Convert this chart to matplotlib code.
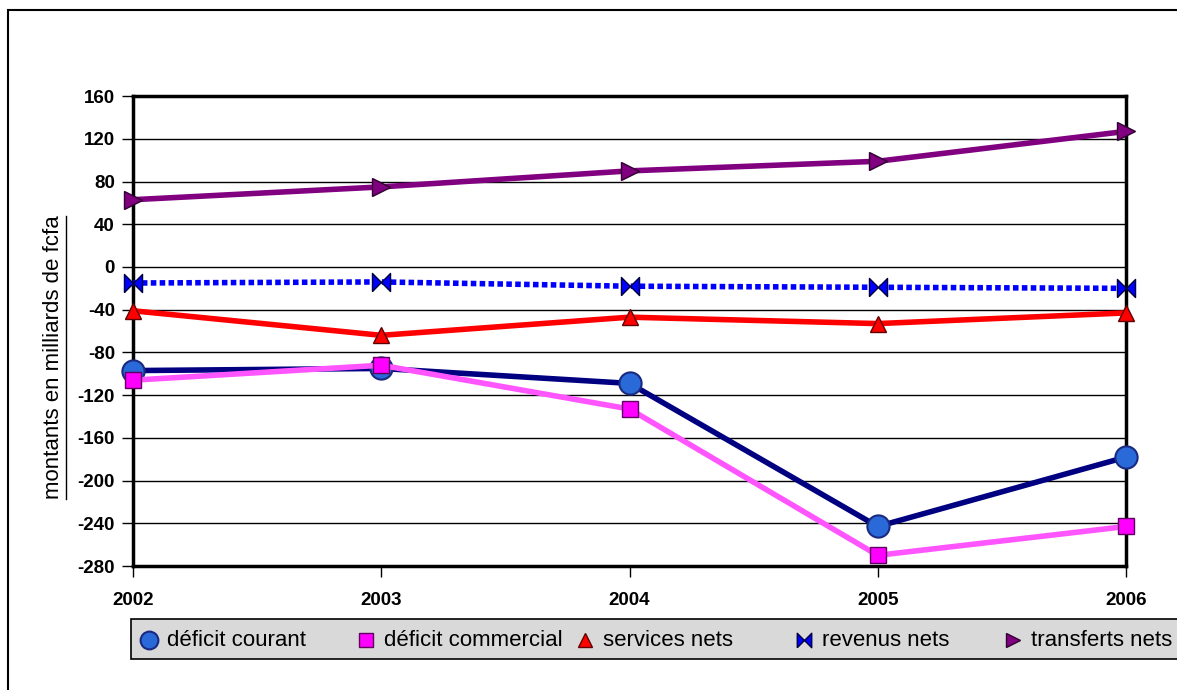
import numpy as np
import matplotlib.pyplot as plt
from matplotlib.patches import Rectangle
from matplotlib.lines import Line2D

plt.rcParams['font.family'] = ['Liberation Sans', 'DejaVu Sans']
plt.rcParams['axes.unicode_minus'] = False

# --------- Data ---------
years = [2002, 2003, 2004, 2005, 2006]
deficit_courant = [-97, -95, -109, -243, -178]
deficit_commercial = [-106, -92, -133, -270, -243]
services_nets = [-41, -64, -47, -53, -43]
revenus_nets = [-15, -14, -18, -19, -20]
transferts_nets = [63, 75, 90, 99, 127]
yticks = list(range(-280, 161, 40))

# bowtie marker for "revenus nets"
bowtie = [(-1, -1), (-1, 1), (0, 0), (1, 1), (1, -1), (0, 0), (-1, -1)]

fig = plt.figure(figsize=(11.77, 6.9), dpi=100)
ax = fig.add_axes([0.113, 0.1797, 0.8437, 0.681])

x = np.arange(len(years))

series = [
    ('déficit courant', deficit_courant,
     dict(color='#000080', marker='o', ms=16, mfc='#2a6ad8', mec='#1a2a80', mew=1.5, zorder=4)),
    ('déficit commercial', deficit_commercial,
     dict(color='#ff55ff', marker='s', ms=12, mfc='#ff00ff', mec='#600060', mew=1, zorder=5)),
    ('services nets', services_nets,
     dict(color='#ff0000', marker='^', ms=12, mfc='#ff0000', mec='#600000', mew=1, zorder=4)),
    ('revenus nets', revenus_nets,
     dict(color='#0000ff', ls=(0, (1, 0.6)), marker=bowtie, ms=13, mfc='#0000ff',
          mec='#000040', mew=1, zorder=4)),
    ('transferts nets', transferts_nets,
     dict(color='#800080', marker='>', ms=13, mfc='#800080', mec='#300030', mew=1, zorder=4)),
]

for name, vals, st in series:
    ax.plot(x, vals, lw=4, clip_on=False, label=name, **st)

ax.set_xlim(0, len(years) - 1)
ax.set_ylim(-280, 160)
ax.set_yticks(yticks)
ax.set_xticks(x)
ax.set_xticklabels([str(y) for y in years])
ax.grid(axis='y', color='black', lw=1)
ax.set_axisbelow(True)
for s in ax.spines.values():
    s.set_linewidth(2.5)
ax.tick_params(axis='both', direction='out', length=8, width=1, labelsize=13.5, pad=5)
ax.tick_params(axis='x', pad=11)
for lab in ax.get_xticklabels() + ax.get_yticklabels():
    lab.set_fontweight('bold')

ylab = ax.set_ylabel('montants en milliards de fcfa', fontsize=16)
ax.yaxis.set_label_coords(-0.069, 0.444)

# underline the y label
fig.canvas.draw()
bb = ylab.get_window_extent().transformed(fig.transFigure.inverted())
ux = bb.x1 + 0.001
fig.add_artist(Line2D([ux, ux], [bb.y0, bb.y1], transform=fig.transFigure, color='black', lw=1))

# --------- Legend (gray band under the plot) ---------
W, H = 1177, 690
fig.add_artist(Rectangle((131 / W, 1 - 659 / H), 1.0, 40 / H, transform=fig.transFigure,
                         facecolor='#d9d9d9', edgecolor='black', lw=1.2))
leg_x = [149, 366, 585, 804, 1013]
leg_y = 1 - 640 / H
for (name, vals, st), px in zip(series, leg_x):
    mst = {k: v for k, v in st.items() if k not in ('color', 'ls', 'zorder')}
    mst['ms'] = mst['ms'] * 0.8
    fig.add_artist(Line2D([px / W], [leg_y], transform=fig.transFigure, ls='none', **mst))
    fig.text((px + 18) / W, leg_y, name, fontsize=16, va='center', ha='left')

# outer border
fig.add_artist(Rectangle((8 / W, -0.5), 2, 1.5 - 10 / H, transform=fig.transFigure,
                         fill=False, edgecolor='black', lw=1.5))

fig.savefig('out.png', dpi=100)
